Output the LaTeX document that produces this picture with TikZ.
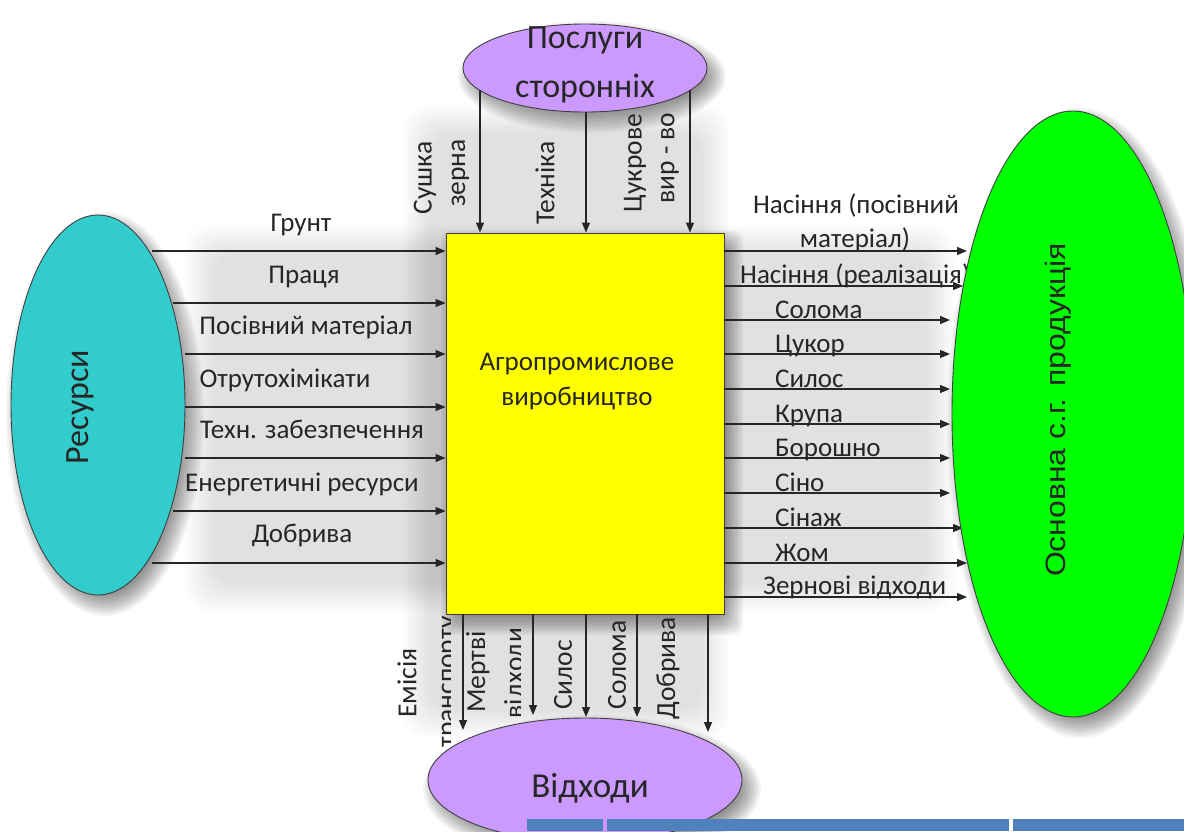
\documentclass[tikz,border=0pt]{standalone}
\usepackage{fontspec}
\usepackage{graphicx}
\setmainfont{Carlito}
\newfontfamily\arialf{Liberation Sans}
\usetikzlibrary{shapes.geometric,arrows.meta}

\definecolor{purp}{RGB}{204,153,255}
\definecolor{cyanf}{RGB}{51,204,204}
\definecolor{greenf}{RGB}{0,255,0}
\definecolor{yel}{RGB}{255,255,0}
\definecolor{tblue}{RGB}{79,129,189}

\tikzset{
  shp/.style={draw=black!75, line width=0.9pt},
  oval/.style={shp, ellipse, inner sep=0pt},
  arr/.style={draw=black!85, line width=1.2pt, -{Triangle[length=10pt,width=8pt]}},
  lbl/.style={font=\fontsize{27}{30}\selectfont, text=black!85, inner sep=0pt},
  vlbl/.style={lbl, font=\fontsize{27.5}{30}\selectfont, rotate=90},
  bigt/.style={font=\fontsize{35}{38}\selectfont, text=black!85, inner sep=0pt},
  shadowstep/.style={fill=black, opacity=0.045},
  softstep/.style={fill=black, opacity=0.0075},
}

\begin{document}
\begin{tikzpicture}[x=1pt,y=-1pt]
\useasboundingbox (0,0) rectangle (1184,831);
\fill[white] (0,0) rectangle (1184,831);

% soft shadows of the text boxes
\foreach \i in {0,...,14} {
  \fill[softstep, rounded corners=24pt] (185+2*\i,225+2*\i) rectangle (955-2*\i,612-2*\i);
  \fill[softstep, rounded corners=24pt] (402+2*\i,105+2*\i) rectangle (730-2*\i,738-2*\i);
}

% shadows of the shapes
\foreach \i in {0,...,11} {
  \fill[shadowstep] (105,414) ellipse [x radius=99-2*\i, y radius=202-2*\i];
  \fill[shadowstep] (592,77) ellipse [x radius=134-2*\i, y radius=56-2*\i];
  \fill[shadowstep] (592,789) ellipse [x radius=169-2*\i, y radius=74-2*\i];
  \fill[shadowstep] (1080,423) ellipse [x radius=133-2*\i, y radius=315-2*\i];
  \fill[shadowstep, rounded corners=10pt] (441+2*\i,230+2*\i) rectangle (743-2*\i,635-2*\i);
}

% shapes
\node[oval, fill=cyanf, minimum width=174pt, minimum height=380pt] (res) at (98,405) {};
\node[oval, fill=purp, minimum width=244pt, minimum height=88pt] (serv) at (585,68) {};
\node[oval, fill=purp, minimum width=314pt, minimum height=124pt] (waste) at (585,780) {};
\node[shp, fill=yel, minimum width=278pt, minimum height=381pt, inner sep=0pt] (agro) at (585,423.5) {};

% table fragment
\fill[tblue] (527,819) rectangle (603,831);
\fill[tblue] (607,819) rectangle (1009,831);
\fill[tblue] (1013,819) rectangle (1184,831);

% shape texts
\node[bigt, font=\fontsize{34}{38}\selectfont, rotate=90] (rest) at (80,407) {Ресурси};
\node[bigt, font=\fontsize{34}{38}\selectfont, anchor=base] (servt1) at (585,48) {Послуги};
\node[bigt, font=\fontsize{34}{38}\selectfont, anchor=base] (servt2) at (585,97) {сторонніх};
\node[bigt, anchor=base] (wastet) at (590,797) {Відходи};
\node[lbl, anchor=base] (agrot1) at (577,370) {Агропромислове};
\node[lbl, anchor=base] (agrot2) at (577,405) {виробництво};

% left arrows
\coordinate (l1) at (152,251);
\coordinate (l2) at (173,303);
\coordinate (l3) at (185,354);
\coordinate (l4) at (185,407);
\coordinate (l5) at (185,458);
\coordinate (l6) at (173,511);
\coordinate (l7) at (152,563);
\foreach \c in {l1,l2,l3,l4,l5,l6,l7} \draw[arr] (\c) -- (\c -| agro.west);

\node[lbl, anchor=base] (g1) at (301,231) {Грунт};
\node[lbl, anchor=base] (g2) at (304,283) {Праця};
\node[lbl, anchor=base] (g3) at (306,334) {Посівний матеріал};
\node[lbl, anchor=base] (g4) at (285,387) {Отрутохімікати};
\node[lbl, anchor=base] (g5) at (312,438) {Техн. забезпечення};
\node[lbl, anchor=base] (g6) at (302,491) {Енергетичні ресурси};
\node[lbl, anchor=base] (g7) at (302,542) {Добрива};

% top arrows
\coordinate (t1) at (480,90);
\coordinate (t2) at (586,112);
\coordinate (t3) at (690,90);
\foreach \c in {t1,t2,t3} \draw[arr] (\c) -- (\c |- agro.north);

\node[vlbl] (s1) at (425,178) {Сушка};
\begin{scope}
  \clip (440,100) rectangle (468,232);
  \node[vlbl, anchor=base] (s2) at (465,173) {зерна};
\end{scope}
\node[vlbl] (s3) at (545,183) {Техніка};
\node[vlbl] (s4) at (635,163) {Цукрове};
\node[vlbl] (s5) at (670,158) {вир - во};

% bottom arrows
\coordinate (b1) at (463,730);
\coordinate (b2) at (533,715);
\coordinate (b3) at (586,717);
\coordinate (b4) at (637,717);
\coordinate (b5) at (708,732);
\foreach \c in {b1,b2,b3,b4,b5} \draw[arr] (\c |- agro.south) -- (\c);

\node[vlbl] (w1) at (407,683) {Емісія};
\begin{scope}
  \clip (430,615) rectangle (450,750);
  \node[vlbl, anchor=base] (w2) at (455,682) {транспорту};
\end{scope}
\node[vlbl] (w3) at (478,672) {Мертві};
\begin{scope}
  \clip (500,615) rectangle (520,750);
  \node[vlbl, anchor=base] (w4) at (523,673) {відходи};
\end{scope}
\node[vlbl] (w5) at (563,675) {Силос};
\node[vlbl] (w6) at (617,665) {Солома};
\node[vlbl] (w7) at (668,668) {Добрива};

% right arrows
\coordinate (r1) at (967,251);
\coordinate (r2) at (963,286);
\coordinate (r3) at (950,320);
\coordinate (r4) at (950,354);
\coordinate (r5) at (950,389);
\coordinate (r6) at (950,424);
\coordinate (r7) at (950,458);
\coordinate (r8) at (950,493);
\coordinate (r9) at (963,528);
\coordinate (r10) at (967,563);
\coordinate (r11) at (967,597);
\foreach \c in {r1,r2,r3,r4,r5,r6,r7,r8,r9,r10,r11} \draw[arr] (\c -| agro.east) -- (\c);

\node[lbl, anchor=base] (p1a) at (856,213) {Насіння (посівний};
\node[lbl, anchor=base] (p1b) at (855,247) {матеріал)};
\node[lbl, anchor=base west] (p2) at (740,283) {Насіння (реалізація)};
\node[lbl, anchor=base west] (p3) at (775,318) {Солома};
\node[lbl, anchor=base west] (p4) at (775,352) {Цукор};
\node[lbl, anchor=base west] (p5) at (775,387) {Силос};
\node[lbl, anchor=base west] (p6) at (775,422) {Крупа};
\node[lbl, anchor=base west] (p7) at (775,456) {Борошно};
\node[lbl, anchor=base west] (p8) at (775,491) {Сіно};
\node[lbl, anchor=base west] (p9) at (775,526) {Сінаж};
\node[lbl, anchor=base west] (p10) at (775,561) {Жом};
\node[lbl, anchor=base west] (p11) at (763,594) {Зернові відходи};

% main product ellipse
\node[oval, fill=greenf, minimum width=242pt, minimum height=606pt] (prod) at (1073,414) {};
\node[font=\arialf\fontsize{28}{32}\selectfont, text=black!85, rotate=90, inner sep=0pt] (prodt) at (1058,410) {\scalebox{1.14}[1]{Основна с.г. продукція}};
\end{tikzpicture}
\end{document}
